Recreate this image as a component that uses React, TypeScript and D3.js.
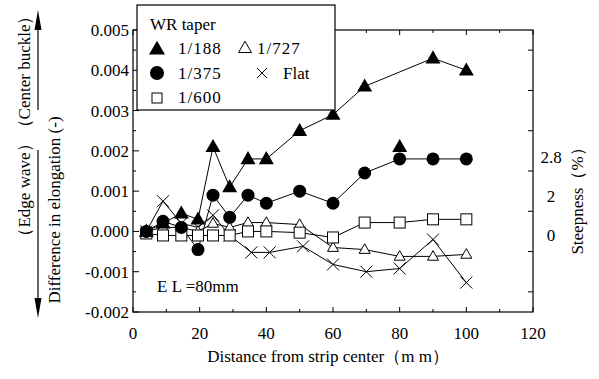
import React from "react";
import * as d3 from "d3";

const W = 599;
const H = 379;
const FONT = "'Liberation Serif', 'Times New Roman', serif";

// ---- data ----
const xTicks = [0, 20, 40, 60, 80, 100, 120];
const yTicks = [-0.002, -0.001, 0, 0.001, 0.002, 0.003, 0.004, 0.005];
const yTickLabels = ["-0.002", "-0.001", "0.000", "0.001", "0.002", "0.003", "0.004", "0.005"];
const steepTicks = [2.8, 2, 0];
const steepLabels = ["2.8", "2", "0"];

const x188 = [4, 9, 14.5, 19.5, 24, 29, 34.5, 40, 50, 60, 69.5, 90, 100];
const y188 = [0.0, 0.0002, 0.00045, 0.0003, 0.0021, 0.0011, 0.0018, 0.0018, 0.0025, 0.0029, 0.0036, 0.0043, 0.004];
const x188extra = [80];
const y188extra = [0.0021];

const x375 = [4, 9, 14.5, 19.5, 24, 29, 34.5, 40, 50, 60, 69.5, 80, 90, 100];
const y375 = [0.0, 0.00025, 0.0001, -0.00045, 0.0009, 0.00035, 0.0009, 0.0007, 0.001, 0.0007, 0.00145, 0.0018, 0.0018, 0.0018];

const x600 = [4, 9, 14.5, 19.5, 24, 29, 34.5, 40, 50, 60, 69.5, 80, 90, 100];
const y600 = [-0.00005, -0.0001, -0.0001, -0.0001, -0.0001, -0.0001, 0.0, 0.0, -0.00003, -0.00015, 0.00022, 0.00022, 0.0003, 0.0003];

const x727 = [4, 9, 14.5, 19.5, 24, 29, 34.5, 40, 50, 60, 69.5, 80, 90, 100];
const y727 = [0.0, 0.0001, 0.0001, 0.0, 0.0002, 0.0001, 0.00022, 0.00022, 0.00017, -0.0004, -0.00045, -0.00062, -0.00062, -0.00057];

const xFlat = [4, 9, 14.5, 19.5, 24, 29, 35.5, 41, 51, 60, 70, 80, 90, 100];
const yFlat = [0.0, 0.00075, 0.0002, 0.0001, 0.0004, -0.0001, -0.00052, -0.00052, -0.00037, -0.00082, -0.001, -0.00092, -0.0002, -0.00127];

// ---- layout ----
const L = 133, R = 533, T = 30, B = 312;
const x = d3.scaleLinear().domain([0, 120]).range([L, R]);
const y = d3.scaleLinear().domain([-0.002, 0.005]).range([B, T]);
const steepToElong = (s: number) => Math.pow((s / 100) * (Math.PI / 2), 2);

const line = d3.line<[number, number]>().x(d => x(d[0])).y(d => y(d[1]));
const zip = (xs: number[], ys: number[]) => xs.map((v, i) => [v, ys[i]] as [number, number]);

function FTri({ cx, cy, s = 15 }: { cx: number; cy: number; s?: number }) {
  const h = s * 0.87;
  return <path d={`M${cx},${cy - h * 0.6}L${cx + s / 2},${cy + h * 0.4}L${cx - s / 2},${cy + h * 0.4}Z`} fill="#000" />;
}
function OTri({ cx, cy, s = 11 }: { cx: number; cy: number; s?: number }) {
  const h = s * 0.87;
  return <path d={`M${cx},${cy - h * 0.6}L${cx + s / 2},${cy + h * 0.4}L${cx - s / 2},${cy + h * 0.4}Z`} fill="#fff" stroke="#000" strokeWidth={1} />;
}
function Circ({ cx, cy, r = 6.5 }: { cx: number; cy: number; r?: number }) {
  return <circle cx={cx} cy={cy} r={r} fill="#000" />;
}
function Sq({ cx, cy, s = 11 }: { cx: number; cy: number; s?: number }) {
  return <rect x={cx - s / 2} y={cy - s / 2} width={s} height={s} fill="#fff" stroke="#000" strokeWidth={1} />;
}
function Cross({ cx, cy, s = 6 }: { cx: number; cy: number; s?: number }) {
  return <path d={`M${cx - s},${cy - s}L${cx + s},${cy + s}M${cx - s},${cy + s}L${cx + s},${cy - s}`} stroke="#000" strokeWidth={1} fill="none" />;
}

export default function App() {
  const d188 = zip(x188, y188);
  const d375 = zip(x375, y375);
  const d600 = zip(x600, y600);
  const d727 = zip(x727, y727);
  const dFlat = zip(xFlat, yFlat);
  const minorY = d3.range(-0.002, 0.00501, 0.0005);
  const minorX = d3.range(0, 121, 10);
  const rightTicks = d3.range(-0.0015, 0.0046, 0.001);

  return (
    <svg width={W} height={H} style={{ position: "absolute", left: 0, top: 0, background: "#fff" }} fontFamily={FONT}>
      <rect x={0} y={0} width={W} height={H} fill="#fff" />
      {/* frame */}
      <rect x={L} y={T} width={R - L} height={B - T} fill="none" stroke="#000" strokeWidth={1.2} />
      {/* y ticks left */}
      {minorY.map((v, i) => {
        const major = Math.abs(Math.round(v * 2000) % 2) === 0;
        return <line key={"yl" + i} x1={L} x2={L + (major ? 6 : 3)} y1={y(v)} y2={y(v)} stroke="#000" />;
      })}
      {rightTicks.map((v, i) => (
        <line key={"yr" + i} x1={R} x2={R - 5} y1={y(v)} y2={y(v)} stroke="#000" />
      ))}
      {minorX.map((v, i) => (
        <g key={"xt" + i}>
          <line x1={x(v)} x2={x(v)} y1={B} y2={B - (v % 20 === 0 ? 5 : 3)} stroke="#000" />
          <line x1={x(v)} x2={x(v)} y1={T} y2={T + (v % 20 === 0 ? 5 : 3)} stroke="#000" />
        </g>
      ))}
      {/* tick labels */}
      {yTicks.map((v, i) => (
        <text key={"ylab" + i} x={L - 4} y={y(v)} dy="0.35em" textAnchor="end" fontSize={17}>
          {yTickLabels[i]}
        </text>
      ))}
      {xTicks.map((v, i) => (
        <text key={"xlab" + i} x={x(v)} y={B + 27} textAnchor="middle" fontSize={17}>
          {v}
        </text>
      ))}
      {steepTicks.map((s, i) => (
        <text key={"slab" + i} x={R + 18} y={y(steepToElong(s)) + 4} dy="0.35em" textAnchor="middle" fontSize={17}>
          {steepLabels[i]}
        </text>
      ))}
      {/* axis titles */}
      <text x={328} y={362} textAnchor="middle" fontSize={17}>
        Distance from strip center（m m）
      </text>
      <text transform={`translate(60,210) rotate(-90)`} textAnchor="middle" fontSize={17}>
        Difference in elongation (-)
      </text>
      <text transform={`translate(583,197) rotate(-90)`} textAnchor="middle" fontSize={17}>
        Steepness（%）
      </text>
      <text transform={`translate(30,72) rotate(-90)`} textAnchor="middle" fontSize={17}>
        （Center buckle）
      </text>
      <text transform={`translate(30,190) rotate(-90)`} textAnchor="middle" fontSize={17}>
        （Edge wave）
      </text>
      {/* arrows */}
      <line x1={38} x2={38} y1={110} y2={22} stroke="#000" strokeWidth={1.2} />
      <path d="M38,10L41.5,30L34.5,30Z" fill="#000" />
      <line x1={38} x2={38} y1={150} y2={305} stroke="#000" strokeWidth={1.2} />
      <path d="M38,318L41.5,298L34.5,298Z" fill="#000" />

      {/* lines */}
      <g fill="none" stroke="#000" strokeWidth={1}>
        <path d={line(dFlat) || ""} />
        <path d={line(d727) || ""} />
        <path d={line(d600) || ""} />
        <path d={line(d375) || ""} />
        <path d={line(d188) || ""} />
      </g>
      {/* markers */}
      {dFlat.map((d, i) => <Cross key={"f" + i} cx={x(d[0])} cy={y(d[1])} />)}
      {d727.map((d, i) => <OTri key={"o" + i} cx={x(d[0])} cy={y(d[1])} />)}
      {d600.map((d, i) => <Sq key={"s" + i} cx={x(d[0])} cy={y(d[1])} />)}
      {d375.map((d, i) => <Circ key={"c" + i} cx={x(d[0])} cy={y(d[1])} />)}
      {d188.map((d, i) => <FTri key={"t" + i} cx={x(d[0])} cy={y(d[1])} />)}
      {x188extra.map((v, i) => <FTri key={"te" + i} cx={x(v)} cy={y(y188extra[i])} />)}

      {/* EL label */}
      <text x={157} y={292} fontSize={17}>E L =80mm</text>

      {/* legend */}
      <rect x={137} y={5} width={198} height={105} fill="#fff" stroke="#000" strokeWidth={1.2} />
      <text x={150} y={30} fontSize={17}>WR taper</text>
      <FTri cx={157} cy={49} s={16} />
      <text x={178} y={54} fontSize={17} letterSpacing={1}>1/188</text>
      <Circ cx={157} cy={73} r={7} />
      <text x={178} y={79} fontSize={17} letterSpacing={1}>1/375</text>
      <Sq cx={157} cy={98} s={10} />
      <text x={178} y={103} fontSize={17} letterSpacing={1}>1/600</text>
      <OTri cx={245} cy={48} s={13} />
      <text x={257} y={54} fontSize={17} letterSpacing={1}>1/727</text>
      <Cross cx={262} cy={73} s={5} />
      <text x={283} y={79} fontSize={17}>Flat</text>
    </svg>
  );
}
